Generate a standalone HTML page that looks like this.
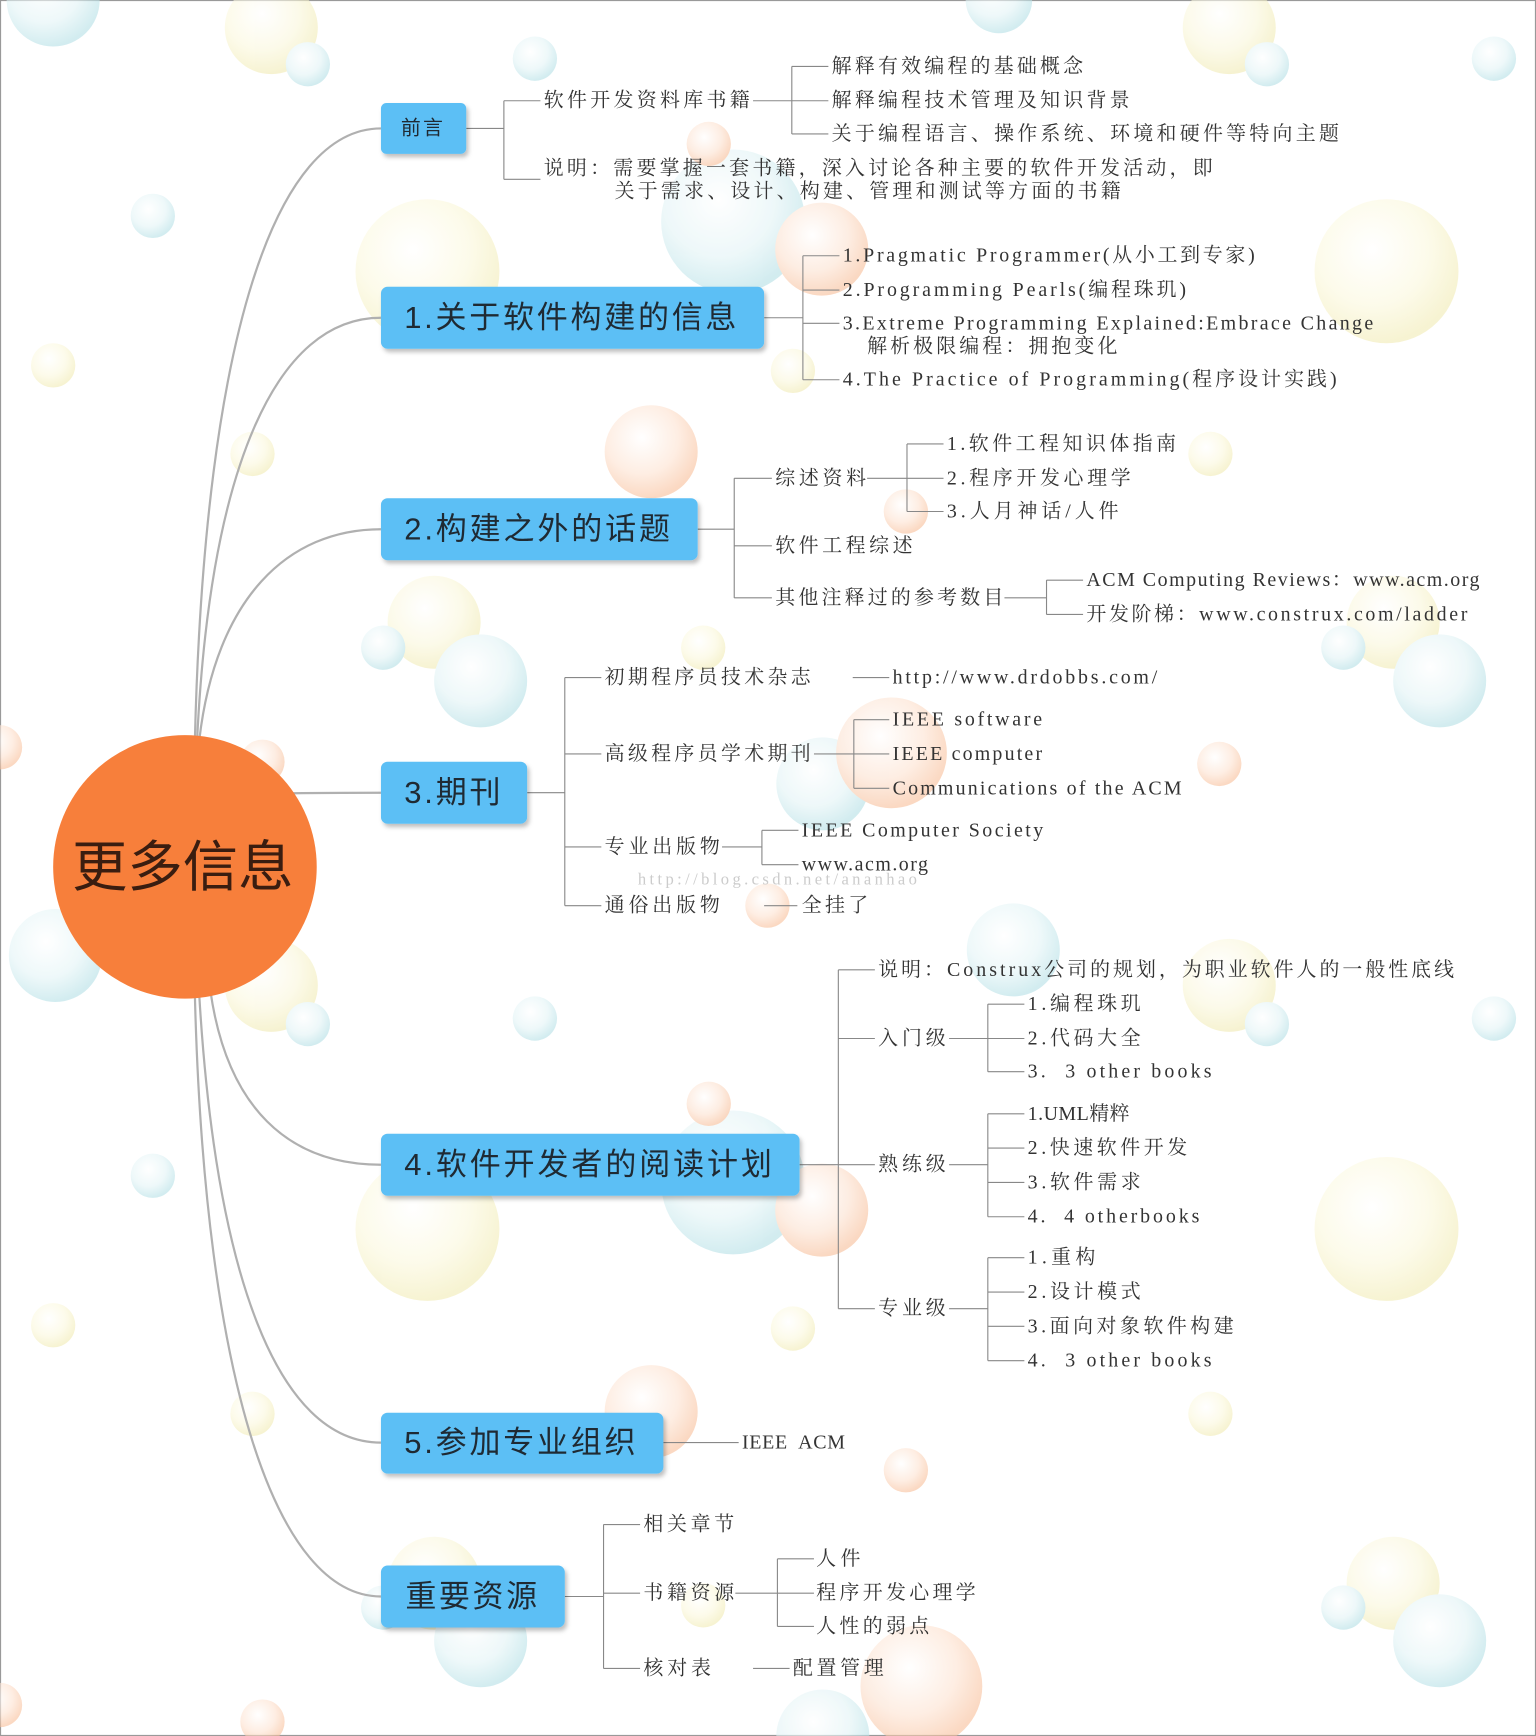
<!DOCTYPE html>
<html><head><meta charset="utf-8"><style>
html,body{margin:0;padding:0;background:#fff;width:1536px;height:1736px;overflow:hidden}
#w{width:1387px;height:1568px;transform:scale(1.10743,1.10714);transform-origin:0 0;position:relative}
svg text{font-family:"Liberation Serif","Noto Serif CJK SC",serif;font-size:18px;fill:#333;dominant-baseline:central}
.n{font-family:"Liberation Sans","Noto Sans CJK SC",sans-serif;font-size:28px;fill:#1f2a33;font-weight:normal}
</style></head><body><div id="w">
<svg width="1387" height="1568" viewBox="0 0 1387 1568" xmlns="http://www.w3.org/2000/svg">
<defs>
<radialGradient id="b" cx="40%" cy="35%" r="65%"><stop offset="0" stop-color="#fff"/><stop offset="0.6" stop-color="#e3f4f6"/><stop offset="1" stop-color="#b5e0e6"/></radialGradient>
<radialGradient id="y" cx="40%" cy="35%" r="65%"><stop offset="0" stop-color="#fff"/><stop offset="0.6" stop-color="#fbf8dc"/><stop offset="1" stop-color="#f1ebb4"/></radialGradient>
<radialGradient id="o" cx="40%" cy="35%" r="65%"><stop offset="0" stop-color="#fff"/><stop offset="0.6" stop-color="#fde2d0"/><stop offset="1" stop-color="#f8bf9a"/></radialGradient>
<filter id="sh"><feDropShadow dx="2" dy="3" stdDeviation="2" flood-color="#000" flood-opacity="0.25"/></filter>
</defs>
<rect x="0.5" y="0.5" width="1386" height="1567" fill="#fff" stroke="#999"/>
<g opacity="0.6">
<g fill="url(#y)">
<circle cx="245" cy="25" r="42"/><circle cx="1110" cy="25" r="42"/><circle cx="386" cy="245" r="65"/><circle cx="1252" cy="245" r="65"/><circle cx="48" cy="330" r="20"/><circle cx="228" cy="410" r="20"/><circle cx="1093" cy="410" r="20"/><circle cx="716" cy="335" r="20"/><circle cx="392" cy="562" r="42"/><circle cx="1258" cy="562" r="42"/><circle cx="635" cy="585" r="20"/><circle cx="245" cy="890" r="42"/><circle cx="1110" cy="890" r="42"/><circle cx="386" cy="1110" r="65"/><circle cx="1252" cy="1110" r="65"/><circle cx="48" cy="1197" r="20"/><circle cx="228" cy="1277" r="20"/><circle cx="1093" cy="1277" r="20"/><circle cx="716" cy="1200" r="20"/><circle cx="392" cy="1430" r="42"/><circle cx="1258" cy="1430" r="42"/><circle cx="635" cy="1450" r="20"/>
</g>
<g fill="url(#b)">
<circle cx="483" cy="53" r="20"/><circle cx="278" cy="58" r="20"/><circle cx="138" cy="195" r="20"/><circle cx="1349" cy="53" r="20"/><circle cx="1144" cy="58" r="20"/><circle cx="48" cy="0" r="42"/><circle cx="902" cy="0" r="30"/><circle cx="662" cy="200" r="65"/><circle cx="1300" cy="615" r="42"/><circle cx="1213" cy="585" r="20"/><circle cx="434" cy="615" r="42"/><circle cx="346" cy="585" r="20"/><circle cx="743" cy="708" r="42"/><circle cx="915" cy="858" r="42"/><circle cx="50" cy="863" r="42"/><circle cx="278" cy="925" r="20"/><circle cx="483" cy="920" r="20"/><circle cx="1349" cy="920" r="20"/><circle cx="1144" cy="925" r="20"/><circle cx="138" cy="1062" r="20"/><circle cx="662" cy="1068" r="65"/><circle cx="1300" cy="1482" r="42"/><circle cx="1213" cy="1452" r="20"/><circle cx="434" cy="1482" r="42"/><circle cx="346" cy="1452" r="20"/><circle cx="743" cy="1568" r="42"/>
</g>
<g fill="url(#o)">
<circle cx="640" cy="130" r="20"/><circle cx="742" cy="225" r="42"/><circle cx="588" cy="408" r="42"/><circle cx="818" cy="462" r="20"/><circle cx="1101" cy="690" r="20"/><circle cx="237" cy="688" r="20"/><circle cx="805" cy="680" r="50"/><circle cx="693" cy="818" r="20"/><circle cx="640" cy="997" r="20"/><circle cx="742" cy="1093" r="42"/><circle cx="588" cy="1275" r="42"/><circle cx="818" cy="1328" r="20"/><circle cx="832" cy="1523" r="55"/><circle cx="0" cy="675" r="20"/><circle cx="0" cy="1540" r="20"/><circle cx="237" cy="1555" r="20"/>
</g>
</g>
<g fill="none" stroke="#b0b0b0" stroke-width="2">
<path d="M176,668 C185,300 250,116 344,116"/>
<path d="M178,668 C190,420 250,287 344,287"/>
<path d="M180,668 C195,540 260,478 344,478"/>
<path d="M190,720 C230,716 300,716 344,716"/>
<path d="M190,895 C205,1000 260,1052 344,1052"/>
<path d="M180,900 C195,1150 250,1303 344,1303"/>
<path d="M176,900 C185,1250 250,1442 344,1442"/>
</g>
<circle cx="167" cy="783" r="119" fill="#f77f3b"/>
<text x="165" y="783" text-anchor="middle" style="font-family:'Liberation Sans','Noto Sans CJK SC',sans-serif;font-size:50px;fill:#3a1d10">更多信息</text>
<g fill="none" stroke="#888" stroke-width="1">
<path d="M421,116H455M455,91V162M455,91H488M455,162H488"/>
<path d="M680,91H715M715,60V121M715,60H748M715,91H748M715,121H748"/>
<path d="M690,287H725M725,231V343M725,231H758M725,262H758M725,292H758M725,343H758"/>
<path d="M630,478H663M663,432V540M663,432H697M663,493H697M663,540H697"/>
<path d="M783,432H819M819,401V462M819,401H852M819,432H852M819,462H852"/>
<path d="M907,540H945M945,524V555M945,524H978M945,555H978"/>
<path d="M476,716H510M510,612V818M510,612H543M510,681H543M510,765H543M510,818H543"/>
<path d="M770,612H803"/>
<path d="M735,681H771M771,650V712M771,650H803M771,681H803M771,712H803"/>
<path d="M652,765H688M688,750V781M688,750H721M688,781H721"/>
<path d="M690,818H720"/>
<path d="M722,1052H757M757,876V1182M757,876H790M757,938H790M757,1052H790M757,1182H790"/>
<path d="M857,938H892M892,907V968M892,907H925M892,938H925M892,968H925"/>
<path d="M857,1052H892M892,1006V1099M892,1006H925M892,1037H925M892,1068H925M892,1099H925"/>
<path d="M857,1182H892M892,1136V1229M892,1136H925M892,1167H925M892,1198H925M892,1229H925"/>
<path d="M599,1303H667"/>
<path d="M510,1442H545M545,1377V1507M545,1377H578M545,1439H578M545,1507H578"/>
<path d="M664,1439H702M702,1408V1469M702,1408H735M702,1439H735M702,1469H735"/>
<path d="M680,1507H713"/>
</g>
<g fill="#5bbff5" filter="url(#sh)">
<rect x="344" y="93" width="77" height="46" rx="5"/>
<rect x="344" y="259" width="346" height="56" rx="6"/>
<rect x="344" y="450" width="286" height="56" rx="6"/>
<rect x="344" y="688" width="132" height="56" rx="6"/>
<rect x="344" y="1024" width="378" height="56" rx="6"/>
<rect x="344" y="1276" width="255" height="55" rx="6"/>
<rect x="344" y="1414" width="166" height="56" rx="6"/>
</g>
<text class="n" x="362" y="116" style="font-size:18px" textLength="38">前言</text>
<text class="n" x="365" y="287" textLength="300">1.关于软件构建的信息</text>
<text class="n" x="365" y="478" textLength="240">2.构建之外的话题</text>
<text class="n" x="365" y="716" textLength="87">3.期刊</text>
<text class="n" x="365" y="1052" textLength="332">4.软件开发者的阅读计划</text>
<text class="n" x="365" y="1303" textLength="209">5.参加专业组织</text>
<text class="n" x="366" y="1442" textLength="119">重要资源</text>
<text x="491" y="91" textLength="186">软件开发资料库书籍</text>
<text x="751" y="60" textLength="227">解释有效编程的基础概念</text>
<text x="751" y="91" textLength="269">解释编程技术管理及知识背景</text>
<text x="751" y="121" textLength="458">关于编程语言、操作系统、环境和硬件等特向主题</text>
<text x="491" y="152" textLength="604">说明：需要掌握一套书籍，深入讨论各种主要的软件开发活动，即</text>
<text x="555" y="173" textLength="457">关于需求、设计、构建、管理和测试等方面的书籍</text>
<text x="761" y="231" textLength="372">1.Pragmatic Programmer(从小工到专家)</text>
<text x="761" y="262" textLength="310">2.Programming Pearls(编程珠玑)</text>
<text x="761" y="292" textLength="479">3.Extreme Programming Explained:Embrace Change</text>
<text x="783" y="313" textLength="226">解析极限编程：拥抱变化</text>
<text x="761" y="343" textLength="446">4.The Practice of Programming(程序设计实践)</text>
<text x="700" y="432" textLength="82">综述资料</text>
<text x="700" y="493" textLength="124">软件工程综述</text>
<text x="700" y="540" textLength="206">其他注释过的参考数目</text>
<text x="855" y="401" textLength="207">1.软件工程知识体指南</text>
<text x="855" y="432" textLength="166">2.程序开发心理学</text>
<text x="855" y="462" textLength="155">3.人月神话/人件</text>
<text x="981" y="524" textLength="355">ACM Computing Reviews：www.acm.org</text>
<text x="981" y="555" textLength="344">开发阶梯：www.construx.com/ladder</text>
<text x="546" y="612" textLength="186">初期程序员技术杂志</text>
<text x="546" y="681" textLength="186">高级程序员学术期刊</text>
<text x="546" y="765" textLength="104">专业出版物</text>
<text x="546" y="818" textLength="104">通俗出版物</text>
<text x="806" y="612" textLength="239">http://www.drdobbs.com/</text>
<text x="806" y="650" textLength="135">IEEE software</text>
<text x="806" y="681" textLength="135">IEEE computer</text>
<text x="806" y="712" textLength="261">Communications of the ACM</text>
<text x="724" y="750" textLength="218">IEEE Computer Society</text>
<text x="724" y="781" textLength="114">www.acm.org</text>
<text x="576" y="794" textLength="252" style="fill:#ccc;font-size:15px">http://blog.csdn.net/ananhao</text>
<text x="724" y="818" textLength="60">全挂了</text>
<text x="793" y="876" textLength="520">说明：Construx公司的规划，为职业软件人的一般性底线</text>
<text x="793" y="938" textLength="61">入门级</text>
<text x="793" y="1052" textLength="61">熟练级</text>
<text x="793" y="1182" textLength="61">专业级</text>
<text x="928" y="907" textLength="102">1.编程珠玑</text>
<text x="928" y="938" textLength="102">2.代码大全</text>
<text x="928" y="968" textLength="166" xml:space="preserve">3.  3 other books</text>
<text x="928" y="1006" textLength="92">1.UML精粹</text>
<text x="928" y="1037" textLength="144">2.快速软件开发</text>
<text x="928" y="1068" textLength="102">3.软件需求</text>
<text x="928" y="1099" textLength="155" xml:space="preserve">4.  4 otherbooks</text>
<text x="928" y="1136" textLength="61">1.重构</text>
<text x="928" y="1167" textLength="102">2.设计模式</text>
<text x="928" y="1198" textLength="186">3.面向对象软件构建</text>
<text x="928" y="1229" textLength="166" xml:space="preserve">4.  3 other books</text>
<text x="670" y="1303" textLength="93" xml:space="preserve">IEEE  ACM</text>
<text x="581" y="1377" textLength="82">相关章节</text>
<text x="581" y="1439" textLength="82">书籍资源</text>
<text x="581" y="1507" textLength="61">核对表</text>
<text x="737" y="1408" textLength="40">人件</text>
<text x="737" y="1439" textLength="144">程序开发心理学</text>
<text x="737" y="1469" textLength="102">人性的弱点</text>
<text x="716" y="1507" textLength="82">配置管理</text>
</svg></div></body></html>
